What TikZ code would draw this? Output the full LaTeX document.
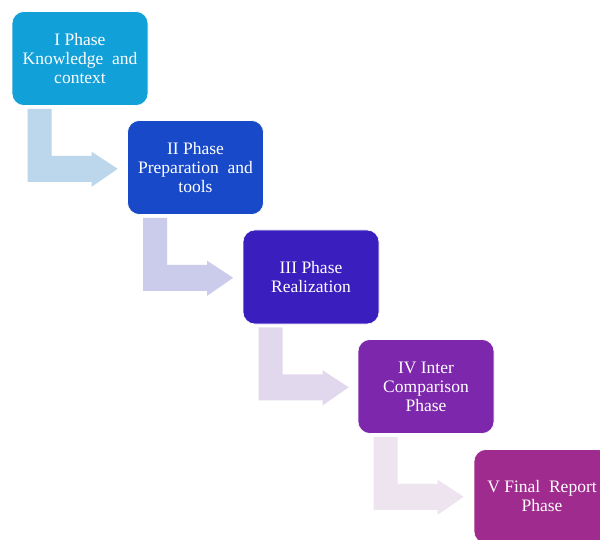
\documentclass[tikz,border=0pt]{standalone}
\usepackage{fontspec}
\setmainfont{Liberation Serif}
\usetikzlibrary{positioning}

\definecolor{phaseone}{RGB}{18,160,216}
\definecolor{phasetwo}{RGB}{24,73,200}
\definecolor{phasethree}{RGB}{59,31,190}
\definecolor{phasefour}{RGB}{124,39,172}
\definecolor{phasefive}{RGB}{160,43,142}
\definecolor{bendone}{RGB}{188,215,235}
\definecolor{bendtwo}{RGB}{203,204,235}
\definecolor{bendthree}{RGB}{226,216,238}
\definecolor{bendfour}{RGB}{238,228,239}

\begin{document}
\begin{tikzpicture}[x=1pt, y=-1pt,
    phase/.style={draw=white, line width=0.6pt, rounded corners=12pt,
        minimum width=136pt, minimum height=94pt, inner sep=2pt,
        text=white, align=center, font=\fontsize{17.5}{19}\selectfont}]

    % Frame
    \useasboundingbox (0,0) rectangle (600,540);
    \clip (0,0) rectangle (600,540);
    \fill[white] (0,0) rectangle (600,540);

    % Phases
    \node[phase, fill=phaseone] (p1) at (80,58.5) {I Phase\\Knowledge\ \ and\\context};
    \node[phase, fill=phasetwo] (p2) at (195.5,167.5) {II Phase\\Preparation\ \ and\\tools};
    \node[phase, fill=phasethree] (p3) at (311,277) {III Phase\\Realization};
    \node[phase, fill=phasefour] (p4) at (426,386.5) {IV Inter\\Comparison\\Phase};
    \node[phase, fill=phasefive] (p5) at (542,496.5) {V Final\ \ Report\\Phase};

    % Bent arrows
    \fill[bendone, shift={(p1.south west)}] (16,3) -- (40,3) -- (40,50) -- (80,50) -- (80,46) -- (106,63) -- (80,81) -- (80,76) -- (16,76) -- cycle;
    \fill[bendtwo, shift={(p2.south west)}] (16,3) -- (40,3) -- (40,50) -- (80,50) -- (80,46) -- (106,63) -- (80,81) -- (80,76) -- (16,76) -- cycle;
    \fill[bendthree, shift={(p3.south west)}] (16,3) -- (40,3) -- (40,50) -- (80,50) -- (80,46) -- (106,63) -- (80,81) -- (80,76) -- (16,76) -- cycle;
    \fill[bendfour, shift={(p4.south west)}] (16,3) -- (40,3) -- (40,50) -- (80,50) -- (80,46) -- (106,63) -- (80,81) -- (80,76) -- (16,76) -- cycle;

\end{tikzpicture}
\end{document}
